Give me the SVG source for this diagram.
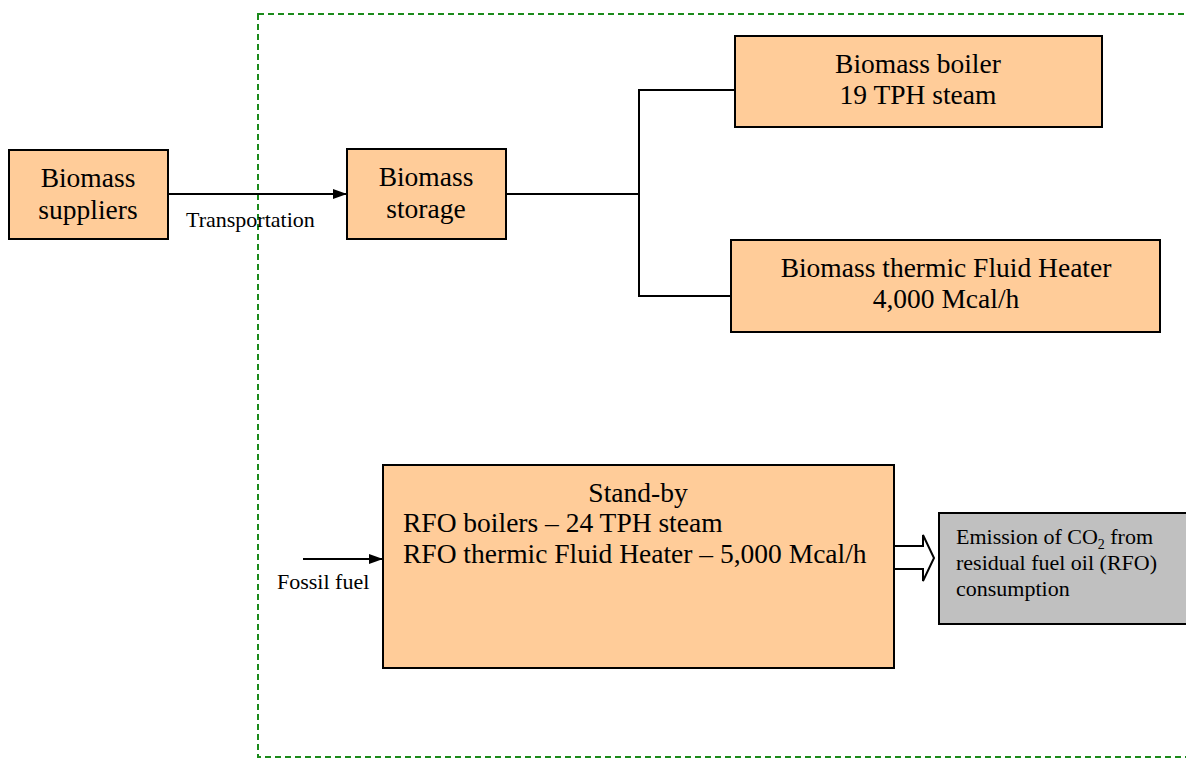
<svg xmlns="http://www.w3.org/2000/svg" width="1186" height="759" viewBox="0 0 1186 759">
<style>
.box{fill:#FFCC99;stroke:#000;stroke-width:2}
.gray{fill:#C0C0C0;stroke:#000;stroke-width:2}
.t{font-family:"Liberation Serif","Times New Roman",serif;font-size:27.5px;fill:#000}
.s{font-family:"Liberation Serif","Times New Roman",serif;font-size:22px;fill:#000}
.c{text-anchor:middle}
.ln{fill:none;stroke:#000;stroke-width:2}
</style>
<defs>
<marker id="ah" markerWidth="14" markerHeight="10" refX="14" refY="5" orient="auto" markerUnits="userSpaceOnUse">
<path d="M0,0 L14,5 L0,10 Z" fill="#000"/>
</marker>
</defs>
<rect x="258" y="14" width="940" height="743" fill="none" stroke="#1a8a1a" stroke-width="2" stroke-dasharray="6,4"/>
<g id="connectors">
<line class="ln" x1="168" y1="194" x2="347" y2="194" marker-end="url(#ah)"/>
<polyline class="ln" points="506,194 639,194"/>
<polyline class="ln" points="735,90 639,90 639,296 731,296"/>
<line class="ln" x1="303" y1="559" x2="383" y2="559" marker-end="url(#ah)"/>
<path d="M894,546 L923,546 L923,535 L934,558 L923,581 L923,569 L894,569" fill="#fff" stroke="#000" stroke-width="2"/>
<text class="s" x="186" y="227">Transportation</text>
<text class="s" x="277" y="589">Fossil fuel</text>
</g>
<g id="suppliers">
<rect class="box" x="9" y="150" width="159" height="89"/>
<text class="t c" x="88" y="187">Biomass</text>
<text class="t c" x="88" y="219">suppliers</text>
</g>
<g id="storage">
<rect class="box" x="347" y="149" width="159" height="90"/>
<text class="t c" x="426" y="186">Biomass</text>
<text class="t c" x="426" y="218">storage</text>
</g>
<g id="boiler">
<rect class="box" x="735" y="36" width="367" height="91"/>
<text class="t c" x="918" y="73">Biomass boiler</text>
<text class="t c" x="918" y="104">19 TPH steam</text>
</g>
<g id="heater">
<rect class="box" x="731" y="240" width="429" height="92"/>
<text class="t c" x="946" y="277">Biomass thermic Fluid Heater</text>
<text class="t c" x="946" y="308">4,000 Mcal/h</text>
</g>
<g id="standby">
<rect class="box" x="383" y="465" width="511" height="203"/>
<text class="t c" x="638" y="502">Stand-by</text>
<text class="t" x="403" y="532">RFO boilers – 24 TPH steam</text>
<text class="t" x="403" y="563">RFO thermic Fluid Heater – 5,000 Mcal/h</text>
</g>
<g id="emission">
<rect class="gray" x="939" y="513" width="250" height="111"/>
<text class="s" x="956" y="544">Emission of CO<tspan font-size="14" dy="5">2</tspan><tspan dy="-5"> from</tspan></text>
<text class="s" x="956" y="570">residual fuel oil (RFO)</text>
<text class="s" x="956" y="596">consumption</text>
</g>
</svg>
